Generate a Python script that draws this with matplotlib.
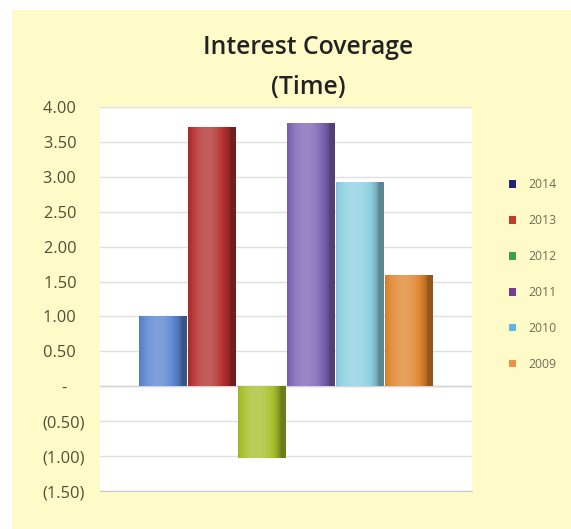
import numpy as np
import matplotlib
matplotlib.use("Agg")
import matplotlib.pyplot as plt
from matplotlib.patches import Rectangle, Patch
from matplotlib.colors import to_rgb

# Interest coverage ratio (times) by year
years = ["2014", "2013", "2012", "2011", "2010", "2009"]
coverage = [1.00, 3.71, -1.03, 3.77, 2.92, 1.59]
bar_colors = ["#5b85d1", "#b32f2f", "#a8c02c", "#7d66b7", "#8dd0e2", "#e0862e"]
legend_colors = ["#24237a", "#c23a2a", "#3fa24a", "#7a3b8e", "#5fb6e6", "#ef8f4a"]
yticks = [4.0, 3.5, 3.0, 2.5, 2.0, 1.5, 1.0, 0.5, 0.0, -0.5, -1.0, -1.5]
ytick_labels = ["4.00  ", "3.50  ", "3.00  ", "2.50  ", "2.00  ", "1.50  ", "1.00  ", "0.50  ",
                "-    ", "(0.50)", "(1.00)", "(1.50)"]

W, H = 571, 529
fig = plt.figure(figsize=(W / 100, H / 100), dpi=100)
fig.patch.set_facecolor("white")

# pale yellow chart panel behind everything
fig.patches.append(Rectangle((12 / W, 0), 1 - 12 / W, 1 - 10 / H, transform=fig.transFigure,
                             facecolor="#fffbc9", edgecolor="none", zorder=-10))

ax = fig.add_axes([100 / W, 1 - 491 / H, 372 / W, 384 / H])
ax.set_zorder(1)
ax.set_facecolor("white")

group = 0.793
w = group / len(years)
xs = [(i - (len(years) - 1) / 2) * w for i in range(len(years))]

# horizontal shading that gives each bar a rounded, cylinder-like look
u = np.linspace(0, 1, 64)
shade = 0.55 + 0.45 * np.sin(np.clip((u + 0.12) / 1.02, 0, 1) * np.pi) ** 0.6
shade = np.minimum(shade, 1.0)

for x, v, c in zip(xs, coverage, bar_colors):
    bar = ax.bar(x, v, width=w * 0.97, color=c, edgecolor="none", zorder=3)[0]
    base = np.array(to_rgb(c))
    light = np.clip(base + (1 - base) * 0.22, 0, 1)
    img = np.zeros((2, len(u), 3))
    for k, s in enumerate(shade):
        col = base * s / 0.85 if s < 0.85 else base + (light - base) * (s - 0.85) / 0.15
        img[:, k, :] = np.clip(col, 0, 1)
    y0, y1 = sorted([0, v])
    im = ax.imshow(img, extent=[x - w * 0.485, x + w * 0.485, y0, y1],
                   aspect="auto", interpolation="bilinear", zorder=4)
    im.set_clip_path(bar)

ax.set_xlim(-0.5, 0.5)
ax.set_ylim(-1.5, 4.0)

ax.set_yticks(yticks)
ax.set_yticklabels(ytick_labels, fontfamily="Open Sans", fontsize=11.8, color="#4f5034")
ax.tick_params(axis="y", length=0, pad=11)
ax.set_xticks([])
ax.grid(axis="y", color="#e0e0e0", linewidth=1.0, zorder=1)
ax.axhline(0, color="#d4d4d4", linewidth=1.0, zorder=2)
for side in ["top", "right", "left"]:
    ax.spines[side].set_visible(False)
ax.spines["bottom"].set_color("#c8c8c8")
ax.spines["bottom"].set_position(("data", -1.5))

fig.text(308 / W, 1 - 47 / H, "Interest Coverage", ha="center", va="center",
         fontfamily="Open Sans", fontweight="semibold", fontsize=17.8, color="#222222")
fig.text(308 / W, 1 - 87 / H, "(Time)", ha="center", va="center",
         fontfamily="Open Sans", fontweight="semibold", fontsize=17.8, color="#222222")

handles = [Patch(facecolor=c, edgecolor="none", label=y) for y, c in zip(years, legend_colors)]
fig.legend(handles=handles, loc="upper left", bbox_to_anchor=(509 / W, 1 - 178 / H),
           frameon=False, handlelength=0.6, handleheight=0.6,
           handletextpad=1.0, labelspacing=1.88, borderpad=0, borderaxespad=0,
           labelcolor="#6e6e58", prop={"family": "Open Sans", "size": 8.8})

fig.savefig("out.png", dpi=100, facecolor=fig.get_facecolor())
